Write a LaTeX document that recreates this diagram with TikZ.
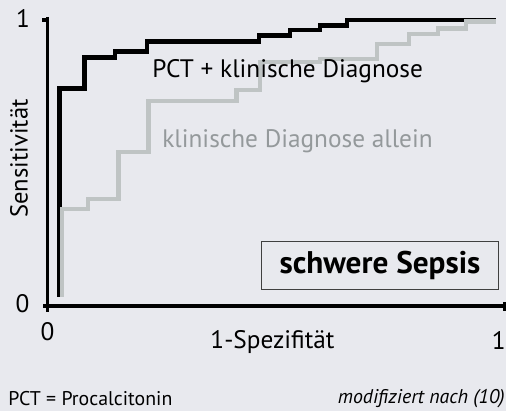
\documentclass[tikz,border=0pt]{standalone}
\usepackage{fontspec}
\setmainfont{PT Sans}
\definecolor{bgpanel}{RGB}{232,233,238}
\definecolor{rocgrey}{RGB}{191,196,196}
\definecolor{labelgrey}{RGB}{148,153,155}
\tikzset{
	axisline/.style={line width=2.1pt},
	roccurve/.style={line width=2.8pt, line join=miter},
	plotlabel/.style={inner sep=0pt, font=\fontsize{14.4}{16}\selectfont},
	footlabel/.style={inner sep=0pt, font=\fontsize{11.3}{13}\selectfont}
}

\begin{document}
\begin{tikzpicture}[x=0.02cm,y=-0.02cm]	%coordinates in pixels, y downwards
	%background
	\fill[bgpanel] (0,0) rectangle (506,411);
	\useasboundingbox (0,0) rectangle (506,411);
	
	%axes
	\draw[axisline] (47.5,17) -- (47.5,312);
	\draw[axisline] (43,306) -- (504,306);
	\draw[axisline] (42,20) -- (47.5,20);		%tick at 1
	\draw[axisline] (504.5,302) -- (504.5,311);	%tick at 1
	
	%PCT + klinische Diagnose
	\draw[roccurve, black] (59.5,297) |- (84.5,88.5) |- (115,57.5) |- (147,51.5) |- (259,41.5)
		|- (290,35.5) |- (320,30) |- (347,25.5) |- (496,20);
	
	%klinische Diagnose allein
	\draw[roccurve, rocgrey] (62,297) |- (88,209) |- (118.5,199) |- (148.5,152) |- (236.5,101)
		|- (260,90) |- (320,62) |- (377,59) |- (409,44) |- (438,34) |- (466,28.5) |- (496,21.5);
	
	%axis labels
	\node[plotlabel, anchor=base] (yone) at (23,28) {1};
	\node[plotlabel, anchor=base] (yzero) at (22.5,313) {0};
	\node[plotlabel, anchor=base] (xzero) at (47.5,340) {0};
	\node[plotlabel, anchor=base east] (xone) at (506,349) {1};
	\node[plotlabel, anchor=base] (xlabel) at (272.5,348) {1-Spezifität};
	\node[plotlabel, rotate=90, font=\fontsize{14}{16}\selectfont] (ylabel) at (19,158.5) {Sensitivität};
	
	%curve labels
	\node[plotlabel, anchor=base west] (pctlabel) at (152,78) {PCT + klinische Diagnose};
	\node[plotlabel, anchor=base west, text=labelgrey] (cliniclabel) at (162,148) {klinische Diagnose allein};
	
	%box
	\node[draw=black!75, line width=0.5pt, minimum width=236.6*0.02cm, minimum height=47.6*0.02cm,
		font=\fontsize{17.8}{20}\selectfont\bfseries] (sepsis) at (380,265.5) {schwere Sepsis};
	
	%footer
	\node[footlabel, anchor=base west] (abbrev) at (8,405) {PCT = Procalcitonin};
	\node[footlabel, anchor=base east] (source) at (505,403) {\itshape modifiziert nach (10)};
\end{tikzpicture}
\end{document}
